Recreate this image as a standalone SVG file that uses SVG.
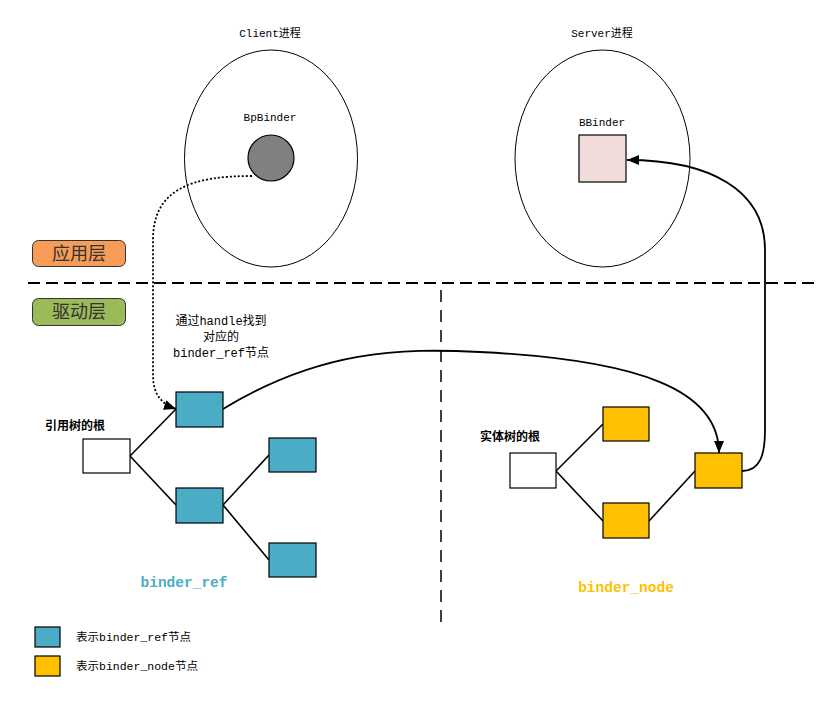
<svg xmlns="http://www.w3.org/2000/svg" width="831" height="702" viewBox="0 0 831 702">
<defs>
<style>
.t{font-family:"Liberation Mono","Noto Sans CJK SC",monospace;font-size:11px;fill:#000;text-anchor:middle}
.m{font-family:"Liberation Mono","Noto Sans CJK SC",monospace;font-size:12px;fill:#000;text-anchor:middle}
.b{font-family:"Noto Sans CJK SC",sans-serif;font-size:12px;font-weight:bold;fill:#000;text-anchor:middle}
.lbl{font-family:"Noto Sans CJK SC",sans-serif;font-size:18px;fill:#333;text-anchor:middle}
.big{font-family:"Liberation Mono",monospace;font-size:14.5px;font-weight:bold;text-anchor:middle}
.ref{fill:#4BACC6;stroke:#000;stroke-width:1.2}
.node{fill:#FFC000;stroke:#000;stroke-width:1.2}
.root{fill:#fff;stroke:#000;stroke-width:1.2}
.proc{fill:#fff;stroke:#000;stroke-width:1}
.edge{fill:none;stroke:#000;stroke-width:1.6}
.conn{fill:none;stroke:#000;stroke-width:1.8}
</style>
<marker id="arr" viewBox="0 0 12 10" refX="12" refY="5" markerWidth="12" markerHeight="10" markerUnits="userSpaceOnUse" orient="auto">
<path d="M0,0 L12,5 L0,10 Z" fill="#000"/>
</marker>
</defs>

<g id="client-process">
<ellipse class="proc" cx="271" cy="158.5" rx="86.5" ry="108.5"/>
<text class="t" x="270" y="37">Client进程</text>
<text class="t" x="270" y="121">BpBinder</text>
</g>
<g id="bpbinder">
<circle cx="271" cy="158" r="23" fill="#808080" stroke="#000" stroke-width="1.2"/>
</g>

<g id="server-process">
<ellipse class="proc" cx="602.5" cy="158.5" rx="87.5" ry="108.5"/>
<text class="t" x="602" y="37">Server进程</text>
<text class="t" x="602" y="126">BBinder</text>
</g>
<g id="bbinder">
<rect x="579" y="135" width="47" height="47" fill="#F2DCDB" stroke="#000" stroke-width="1.2"/>
</g>

<g id="layer-app">
<rect x="32.5" y="240.5" width="93" height="26" rx="6" fill="#F79C57" stroke="#333" stroke-width="1"/>
<text class="lbl" x="79" y="260">应用层</text>
</g>
<g id="layer-driver">
<rect x="32.5" y="298.5" width="93" height="27" rx="6" fill="#9BBB59" stroke="#333" stroke-width="1"/>
<text class="lbl" x="79" y="318">驱动层</text>
</g>

<g id="dividers">
<line x1="28" y1="283" x2="820" y2="283" stroke="#000" stroke-width="2" stroke-dasharray="12,6"/>
<line x1="441" y1="290" x2="441" y2="625" stroke="#000" stroke-width="1.5" stroke-dasharray="12,8"/>
</g>

<g id="note">
<text class="m" x="221" y="325">通过handle找到</text>
<text class="m" x="221" y="341">对应的</text>
<text class="m" x="221" y="357">binder_ref节点</text>
</g>

<g id="connectors">
<path class="edge" d="M130,456 L176,409"/>
<path class="edge" d="M130,456 L176,505"/>
<path class="edge" d="M223,505 L269,455"/>
<path class="edge" d="M223,505 L269,560"/>
<path class="edge" d="M556,471 L603,424"/>
<path class="edge" d="M556,471 L603,521"/>
<path class="edge" d="M649,521 L695,471"/>
<path class="conn" stroke-dasharray="2,2" d="M252,176 C190,176 153,190 153,240 L153,375 C153,395 162,404 176,409" marker-end="url(#arr)"/>
<path class="conn" d="M223,409 C320,350 400,348 480,352 C640,360 719,390 719,453" marker-end="url(#arr)"/>
<path class="conn" d="M742,471 C760,471 765,455 765,430 L765,250 C765,190 710,160 627,160" marker-end="url(#arr)"/>
</g>

<g id="ref-root">
<rect class="root" x="83" y="439" width="47" height="34"/>
<text class="b" x="75" y="430">引用树的根</text>
</g>
<g id="ref-a"><rect class="ref" x="176" y="392" width="47" height="35"/></g>
<g id="ref-b"><rect class="ref" x="176" y="488" width="47" height="35"/></g>
<g id="ref-c"><rect class="ref" x="269" y="438" width="47" height="34"/></g>
<g id="ref-d"><rect class="ref" x="269" y="543" width="47" height="34"/></g>
<g id="ref-label"><text class="big" x="184" y="587" fill="#4BACC6">binder_ref</text></g>

<g id="node-root">
<rect class="root" x="510" y="453" width="46" height="35"/>
<text class="b" x="510" y="441">实体树的根</text>
</g>
<g id="node-e"><rect class="node" x="603" y="407" width="46" height="34"/></g>
<g id="node-f"><rect class="node" x="603" y="503" width="46" height="35"/></g>
<g id="node-g"><rect class="node" x="695" y="453" width="47" height="35"/></g>
<g id="node-label"><text class="big" x="626" y="592" fill="#FFC000">binder_node</text></g>

<g id="legend">
<rect class="ref" x="35" y="627" width="25" height="20"/>
<rect class="node" x="35" y="656" width="25" height="20"/>
<text x="76" y="641" style="font-family:'Liberation Mono','Noto Sans CJK SC',monospace;font-size:11.5px">表示binder_ref节点</text>
<text x="76" y="670" style="font-family:'Liberation Mono','Noto Sans CJK SC',monospace;font-size:11.5px">表示binder_node节点</text>
</g>
</svg>
